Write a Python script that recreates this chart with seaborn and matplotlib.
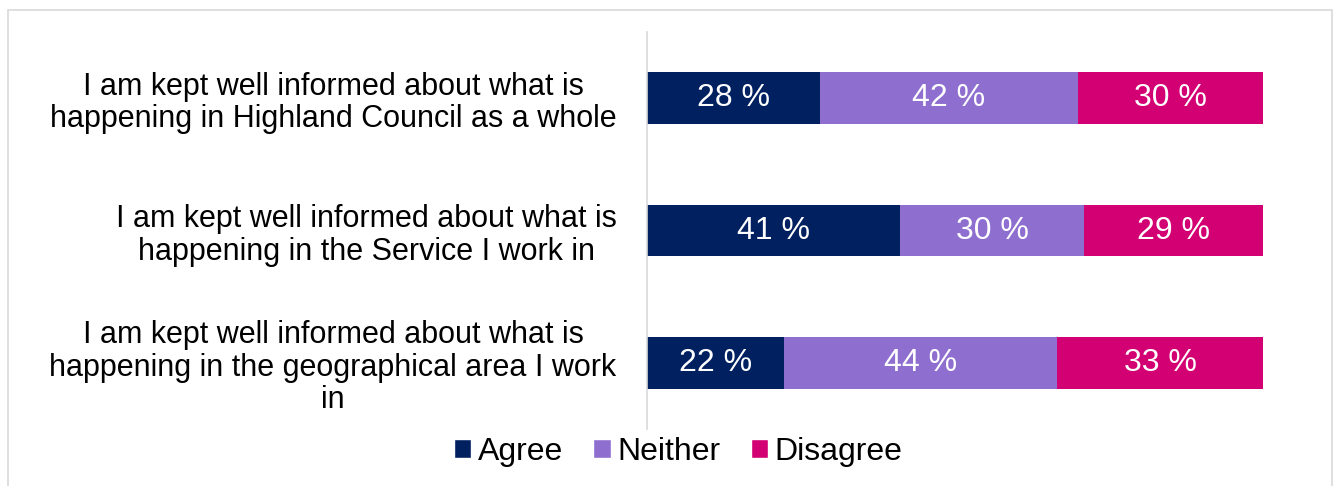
import pandas as pd
import matplotlib.pyplot as plt
import seaborn as sns
from matplotlib.patches import Patch, Rectangle

# survey statements and shares (percent)
statements = [
    "I am kept well informed about what is\nhappening in Highland Council as a whole",
    "I am kept well informed about what is\nhappening in the Service I work in",
    "I am kept well informed about what is\nhappening in the geographical area I work\nin",
]
agree = [28, 41, 22.2]
neither = [42, 30, 44.4]
disagree = [30, 29, 33.4]

categories = ["Agree", "Neither", "Disagree"]
colors = ["#002060", "#8E6FD0", "#D20073"]

df = pd.DataFrame({"statement": statements, "Agree": agree,
                   "Neither": neither, "Disagree": disagree})
df["cum_agree"] = df["Agree"]
df["cum_neither"] = df["Agree"] + df["Neither"]
df["cum_total"] = df["cum_neither"] + df["Disagree"]

sns.set_style("white")
plt.rcParams["font.family"] = ["Liberation Sans", "DejaVu Sans"]
plt.rcParams["text.color"] = "black"
plt.rcParams["ytick.color"] = "black"

fig = plt.figure(figsize=(13.43, 4.86), dpi=100)
ax = fig.add_axes([0.4818, 0.1173, 0.4586, 0.8167])

# stacked bars: draw cumulative totals from the back to the front
for col, color in zip(["cum_total", "cum_neither", "cum_agree"], colors[::-1]):
    sns.barplot(data=df, x=col, y="statement", orient="h", color=color,
                width=0.39, saturation=1, ax=ax, linewidth=0)

# value labels in the middle of each segment
for i, row in df.iterrows():
    left = 0
    for cat in categories:
        v = row[cat]
        ax.text(left + v / 2, i, f"{v:.0f} %", ha="center", va="center",
                color="white", fontsize=23)
        left += v

ax.set_xlim(0, 100)
ax.set_ylim(2.5, -0.5)
ax.set_xlabel("")
ax.set_ylabel("")
ax.set_xticks([])
ax.tick_params(axis="y", length=0, pad=22, labelsize=22, labelcolor="black")
for lbl in ax.get_yticklabels():
    lbl.set_multialignment("center")
    lbl.set_linespacing(1.12)

for side in ["top", "right", "bottom"]:
    ax.spines[side].set_visible(False)
ax.spines["left"].set_color("#d9d9d9")
ax.spines["left"].set_linewidth(1.2)

handles = [Patch(facecolor=c, label=l) for c, l in zip(colors, categories)]
fig.legend(handles=handles, loc="center", bbox_to_anchor=(0.505, 0.07), ncol=3,
           frameon=False, fontsize=23, handlelength=0.55, handleheight=0.55,
           handletextpad=0.2, columnspacing=0.95)

# light outer frame
fig.patches.append(Rectangle((0.006, -0.02), 0.986, 0.999, transform=fig.transFigure,
                             fill=False, edgecolor="#d9d9d9", linewidth=1.2))

fig.savefig("out.png", dpi=100)
